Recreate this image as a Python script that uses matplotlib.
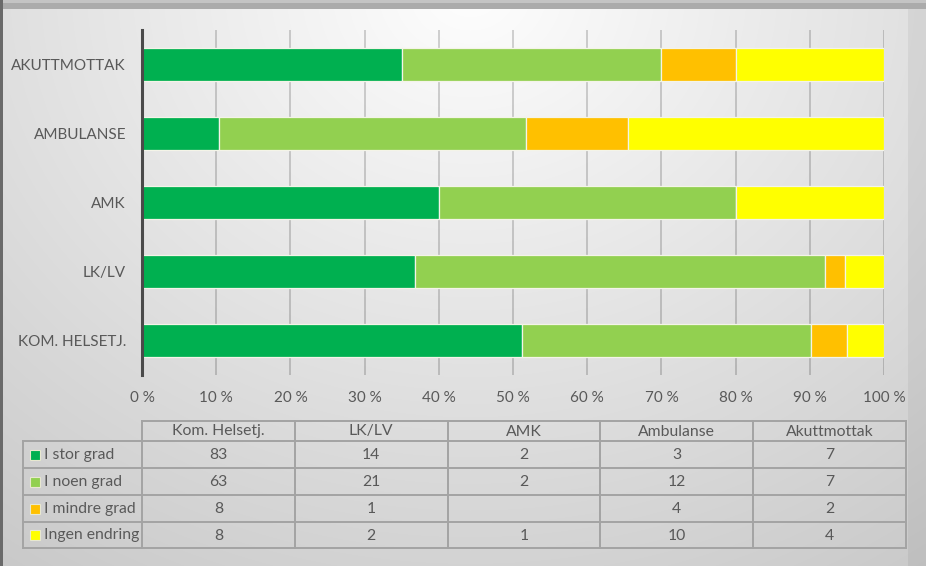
import numpy as np
import matplotlib
matplotlib.use("Agg")
import matplotlib.pyplot as plt
from matplotlib.patches import Rectangle

plt.rcParams['font.family'] = ['Lato', 'DejaVu Sans']

# Units (bottom to top in the chart, left to right in the table)
units = ["Kom. Helsetj.", "LK/LV", "AMK", "Ambulanse", "Akuttmottak"]
unit_labels = ["KOM. HELSETJ.", "LK/LV", "AMK", "AMBULANSE", "AKUTTMOTTAK"]

series = ["I stor grad", "I noen grad", "I mindre grad", "Ingen endring"]
stor_grad = [83, 14, 2, 3, 7]
noen_grad = [63, 21, 2, 12, 7]
mindre_grad = [8, 1, 0, 4, 2]
ingen_endring = [8, 2, 1, 10, 4]
colors = ["#00B050", "#92D050", "#FFC000", "#FFFF00"]

tick_values = [0, 10, 20, 30, 40, 50, 60, 70, 80, 90, 100]

W, H = 926, 566
fig = plt.figure(figsize=(W / 100, H / 100), dpi=100)

# Soft grey gradient backdrop
bg = fig.add_axes([0, 0, 1, 1], zorder=-10)
yy, xx = np.mgrid[0:H, 0:W]
d = np.sqrt(((xx - 470) / 1.15) ** 2 + (yy + 10) ** 2)
v = np.clip(254 - 0.075 * d, 150, 255) / 255.0
img = np.dstack([v, v, v])
bg.imshow(img, extent=[0, W, H, 0], aspect='auto', interpolation='bilinear')
bg.set_xlim(0, W)
bg.set_ylim(H, 0)
bg.axis('off')
# frame strips
bg.add_patch(Rectangle((0, 0), W, 3, color="#c4c4c4", lw=0))
bg.add_patch(Rectangle((0, 3), W, 6, color="#ababab", lw=0))
bg.add_patch(Rectangle((0, 0), 3, H, color="#6a6a6a", lw=0))
bg.add_patch(Rectangle((908, 9), W - 908, H - 9, color="#000000", alpha=0.05, lw=0))


def fx(px):
    return px / W


def fy(py):
    return 1 - py / H


# Stacked 100% bar chart
ax = fig.add_axes([fx(142), fy(375), fx(884) - fx(142), fy(30) - fy(375)])
ax.set_facecolor('none')
data = np.array([stor_grad, noen_grad, mindre_grad, ingen_endring], dtype=float)
totals = data.sum(axis=0)
pct = data / totals * 100
ypos = np.arange(len(units))
left = np.zeros(len(units))
for i in range(len(series)):
    ax.barh(ypos, pct[i], left=left, height=0.49, color=colors[i],
            edgecolor="#f4f4e8", linewidth=0.9, zorder=3)
    left += pct[i]

ax.set_xlim(0, 100)
ax.set_ylim(-0.5, len(units) - 0.5)
ax.set_xticks(tick_values)
ax.set_xticklabels([f"{t} %" for t in tick_values])
ax.set_yticks(ypos)
ax.set_yticklabels(unit_labels)
ax.tick_params(axis='both', length=0, colors="#595959", labelsize=11)
ax.tick_params(axis='x', pad=11.5)
ax.tick_params(axis='y', pad=11.5)
ax.grid(axis='x', color="#000000", alpha=0.2, linewidth=1.2, zorder=0)
for s in ["top", "right", "bottom"]:
    ax.spines[s].set_visible(False)
ax.spines['left'].set_color("#4a4a4a")
ax.spines['left'].set_linewidth(2.2)
ax.spines['left'].set_zorder(4)

# Data table below the chart
tb = fig.add_axes([0, 0, 1, 1], zorder=2)
tb.set_xlim(0, W)
tb.set_ylim(H, 0)
tb.axis('off')
line_c = "#a3a3a3"
lw = 1.4
col_x = np.linspace(142, 906, len(units) + 1)
row_y = [421, 441, 468, 495, 522, 548]
leg_x0 = 23
# header row
tb.plot([142, 906], [row_y[0], row_y[0]], color=line_c, lw=lw)
for x in col_x:
    tb.plot([x, x], [row_y[0], row_y[-1]], color=line_c, lw=lw)
tb.plot([leg_x0, leg_x0], [row_y[1], row_y[-1]], color=line_c, lw=lw)
for y in row_y[1:]:
    tb.plot([leg_x0, 906], [y, y], color=line_c, lw=lw)

txt_c = "#595959"
fs = 11.3
for j, name in enumerate(units):
    tb.text((col_x[j] + col_x[j + 1]) / 2, (row_y[0] + row_y[1]) / 2 + 0.5, name,
            ha='center', va='center', fontsize=fs, color=txt_c)
for i, name in enumerate(series):
    yc = (row_y[i + 1] + row_y[i + 2]) / 2
    tb.add_patch(Rectangle((30, yc - 5), 10, 10, facecolor=colors[i],
                           edgecolor="#e8e8d0", lw=0.8))
    tb.text(44, yc + 0.5, name, ha='left', va='center', fontsize=fs, color=txt_c)
    for j in range(len(units)):
        val = int(data[i, j])
        if val:
            tb.text((col_x[j] + col_x[j + 1]) / 2, yc + 0.5, str(val),
                    ha='center', va='center', fontsize=fs, color=txt_c)

fig.savefig("out.png", dpi=100)
